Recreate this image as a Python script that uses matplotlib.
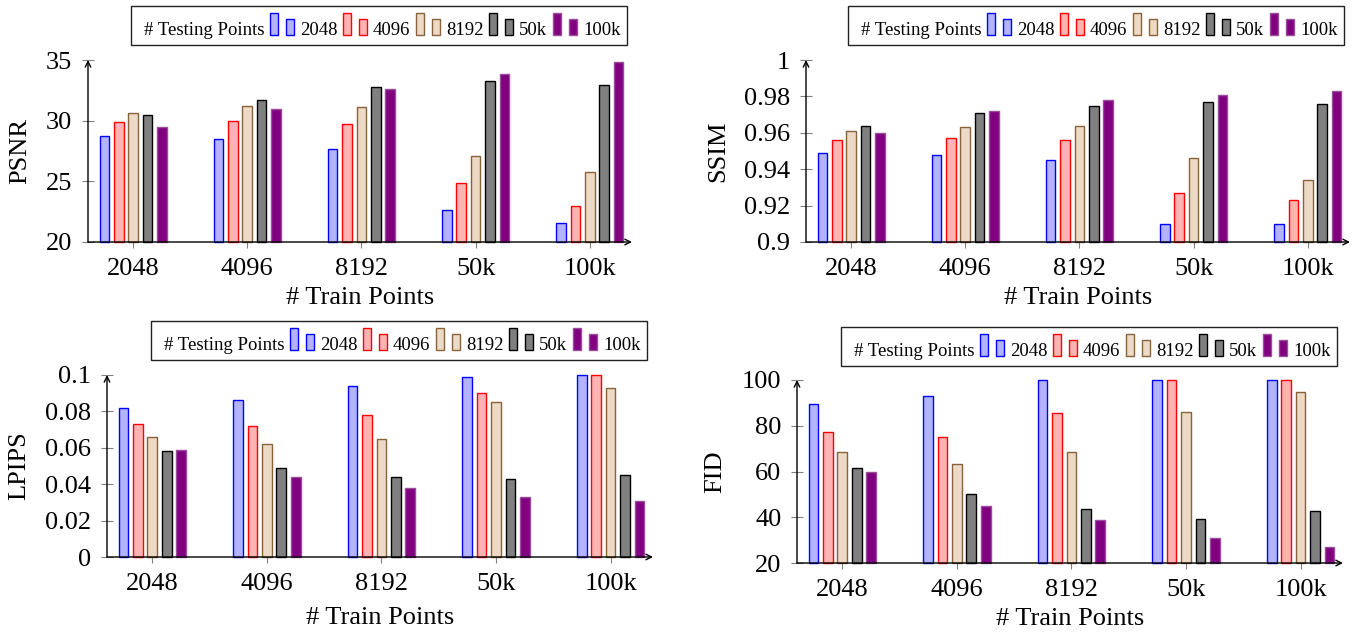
import matplotlib
matplotlib.use("Agg")
import matplotlib.pyplot as plt
import numpy as np
from matplotlib.patches import Rectangle
from matplotlib.offsetbox import AnchoredOffsetbox, HPacker, TextArea, DrawingArea

plt.rcParams['font.family'] = ['Liberation Serif', 'DejaVu Serif']

# data
categories = ['2048', '4096', '8192', '50k', '100k']
series = ['2048', '4096', '8192', '50k', '100k']

# one row per testing-point series, one column per train-point category
psnr = [[28.7, 28.45, 27.65, 22.6, 21.55],
        [29.9, 29.95, 29.75, 24.85, 23.0],
        [30.6, 31.2, 31.15, 27.1, 25.75],
        [30.5, 31.7, 32.8, 33.3, 32.95],
        [29.5, 31.0, 32.6, 33.85, 34.8]]
ssim = [[0.949, 0.948, 0.945, 0.910, 0.910],
        [0.956, 0.957, 0.956, 0.927, 0.923],
        [0.961, 0.963, 0.964, 0.946, 0.934],
        [0.964, 0.971, 0.975, 0.977, 0.976],
        [0.960, 0.972, 0.978, 0.981, 0.983]]
lpips = [[0.082, 0.086, 0.094, 0.099, 0.1],
         [0.073, 0.072, 0.078, 0.090, 0.1],
         [0.066, 0.062, 0.065, 0.085, 0.093],
         [0.058, 0.049, 0.044, 0.043, 0.045],
         [0.059, 0.044, 0.038, 0.033, 0.031]]
fid = [[89.4, 93.2, 100.0, 100.0, 100.0],
       [77.3, 75.3, 85.6, 100.0, 100.0],
       [68.4, 63.1, 68.7, 86.2, 94.9],
       [61.6, 50.1, 43.7, 39.2, 42.7],
       [59.6, 44.7, 38.8, 30.8, 27.0]]

fills = ['#b3b3ff', '#ffb3b3', '#ecd9c6', '#808080', '#800080']
edges = ['#0000ff', '#ff0000', '#8a6238', '#000000', '#9a4d9a']

W, H = 1356, 633
fig = plt.figure(figsize=(W / 100, H / 100), dpi=100)


def px_axes(left, right, top, bottom):
    return fig.add_axes([left / W, 1 - bottom / H, (right - left) / W, (bottom - top) / H])


def draw_panel(ax, data, ylabel, ylim, yticks, yticklabels, xlabelpad=5):
    x = np.arange(len(categories))
    step = 0.126
    width = 0.084
    base = ylim[0]
    for i, vals in enumerate(data):
        # bars start at the axis floor; unclipped so the top edge at ymax shows
        ax.bar(x + (i - 2) * step, np.array(vals) - base, bottom=base, width=width,
               color=fills[i], edgecolor=edges[i], linewidth=1.0, zorder=2,
               clip_on=False)
    ax.set_xlim(-0.395, 4.37)
    ax.set_ylim(*ylim)
    ax.set_xticks(x)
    ax.set_xticklabels(categories, fontsize=19)
    ax.set_yticks(yticks)
    ax.set_yticklabels(yticklabels, fontsize=19)
    ax.tick_params(axis='both', direction='inout', length=8.5, width=0.8,
                   color='gray', pad=7)
    ax.set_xlabel('# Train Points', fontsize=19, labelpad=xlabelpad)
    ax.set_ylabel(ylabel, fontsize=19, labelpad=11)
    for s in ax.spines.values():
        s.set_visible(False)
    ax.annotate('', xy=(1, 0), xytext=(0, 0), xycoords='axes fraction',
                arrowprops=dict(arrowstyle='->', lw=1, color='black',
                                shrinkA=0, shrinkB=0, mutation_scale=10),
                annotation_clip=False, zorder=3)
    ax.annotate('', xy=(0, 1), xytext=(0, 0), xycoords='axes fraction',
                arrowprops=dict(arrowstyle='->', lw=1, color='black',
                                shrinkA=0, shrinkB=0, mutation_scale=10),
                annotation_clip=False, zorder=3)


def add_legend(left, top):
    items = [DrawingArea(0.3, 1, 0, 0),
             TextArea('# Testing Points', textprops=dict(fontsize=13.5))]
    for i, lab in enumerate(series):
        # pgfplots-style ybar legend image: a tall and a short bar
        da = DrawingArea(17.4, 16, 0, 0)
        da.add_artist(Rectangle((0, 0), 5.8, 16, facecolor=fills[i],
                                edgecolor=edges[i], linewidth=1.0))
        da.add_artist(Rectangle((11.6, 0), 5.8, 11.5, facecolor=fills[i],
                                edgecolor=edges[i], linewidth=1.0))
        items.append(HPacker(children=[da, TextArea(lab, textprops=dict(fontsize=13.5))],
                             sep=4.3, pad=0, align='baseline'))
    box = HPacker(children=items, sep=4.0, pad=0, align='baseline')
    anch = AnchoredOffsetbox(loc='upper left', child=box, pad=0.35, borderpad=0,
                             frameon=True, prop=dict(size=13.5),
                             bbox_to_anchor=(left / W, 1 - top / H),
                             bbox_transform=fig.transFigure)
    anch.patch.set_boxstyle('square', pad=0)
    anch.patch.set_edgecolor('#222222')
    anch.patch.set_linewidth(1.0)
    fig.add_artist(anch)


ax1 = px_axes(88, 632, 60, 242)
draw_panel(ax1, psnr, 'PSNR', (20, 35), [20, 25, 30, 35], ['20', '25', '30', '35'])
add_legend(131, 6)

ax2 = px_axes(806, 1350, 60, 242)
draw_panel(ax2, ssim, 'SSIM', (0.9, 1.0), [0.9, 0.92, 0.94, 0.96, 0.98, 1.0],
           ['0.9', '0.92', '0.94', '0.96', '0.98', '1'])
add_legend(848, 6)

ax3 = px_axes(107, 653, 375, 557)
draw_panel(ax3, lpips, 'LPIPS', (0, 0.1), [0, 0.02, 0.04, 0.06, 0.08, 0.1],
           ['0', '0.02', '0.04', '0.06', '0.08', '0.1'], xlabelpad=9)
add_legend(151, 321)

ax4 = px_axes(797, 1343, 380, 563)
draw_panel(ax4, fid, 'FID', (20, 100), [20, 40, 60, 80, 100],
           ['20', '40', '60', '80', '100'])
add_legend(841, 327)

fig.savefig('out.png', dpi=100)
